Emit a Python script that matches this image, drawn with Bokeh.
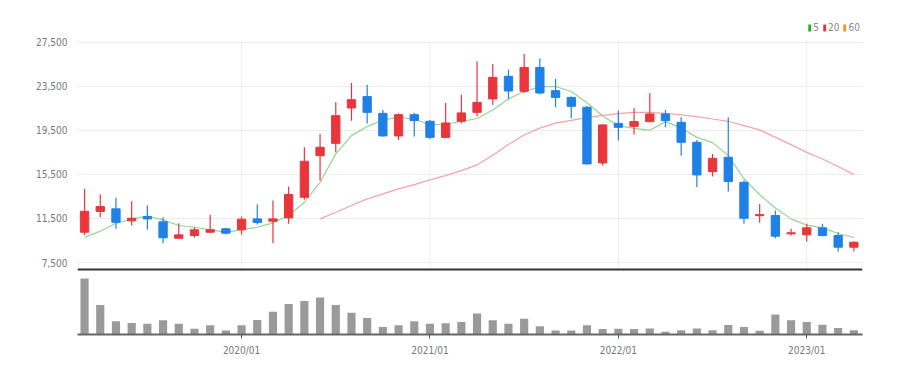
from bokeh.plotting import figure
from bokeh.layouts import column
from bokeh.models import (ColumnDataSource, FixedTicker, NumeralTickFormatter, Legend,
                          LegendItem, Range1d, Span)
from bokeh.embed import file_html
from bokeh.resources import INLINE

months = ["2019/03", "2019/04", "2019/05", "2019/06", "2019/07", "2019/08", "2019/09", "2019/10",
          "2019/11", "2019/12", "2020/01", "2020/02", "2020/03", "2020/04", "2020/05", "2020/06",
          "2020/07", "2020/08", "2020/09", "2020/10", "2020/11", "2020/12", "2021/01", "2021/02",
          "2021/03", "2021/04", "2021/05", "2021/06", "2021/07", "2021/08", "2021/09", "2021/10",
          "2021/11", "2021/12", "2022/01", "2022/02", "2022/03", "2022/04", "2022/05", "2022/06",
          "2022/07", "2022/08", "2022/09", "2022/10", "2022/11", "2022/12", "2023/01", "2023/02",
          "2023/03", "2023/04"]

opens = [10250, 12130, 12370, 11280, 11670, 11190, 9700, 9950, 10250, 10560,
         10470, 11460, 11250, 11550, 13420, 17200, 18320, 21530, 22560, 21040,
         18990, 20920, 20320, 18860, 20320, 21130, 22350, 24400, 23040, 25210,
         23100, 22490, 21590, 16540, 20130, 19860, 20290, 20990, 20230, 18410,
         15750, 17050, 14780, 11750, 11760, 10100, 10010, 10650, 9950, 8890]
closes = [12150, 12580, 11150, 11520, 11460, 9740, 10010, 10470, 10470, 10160,
          11430, 11130, 11460, 13670, 16690, 17960, 20830, 22280, 21130, 18990,
          20920, 20380, 18860, 20170, 21080, 22040, 24310, 23070, 25210, 22890,
          22490, 21680, 16450, 19990, 19770, 20290, 20990, 20380, 18410, 15450,
          16960, 14850, 11520, 11850, 9890, 10200, 10650, 9950, 8890, 9340]
highs = [14200, 13670, 13370, 13060, 12670, 11600, 11060, 10700, 11830, 10650,
         11670, 12760, 13120, 14390, 17960, 19170, 22040, 23800, 23640, 21350,
         21040, 21080, 20440, 21990, 22740, 25760, 25520, 25000, 26430, 26030,
         24160, 22580, 21740, 20040, 21290, 21530, 22890, 21350, 20680, 18630,
         17360, 20680, 14940, 12820, 12220, 10560, 11010, 11010, 10250, 9430]
lows = [10000, 11600, 10560, 10860, 10490, 9250, 9650, 9740, 10200, 10040,
        10010, 10950, 9250, 11010, 13190, 14940, 17500, 20380, 20130, 18930,
        18630, 18930, 18720, 18770, 20130, 20770, 21800, 22350, 22890, 22770,
        21590, 20590, 16390, 16300, 18570, 19110, 20230, 19770, 17200, 14330,
        15300, 13940, 11010, 11100, 9700, 9950, 9400, 9860, 8500, 8500]
ma5 = [9800, 10340, 11065, 11430, 11720, 11370, 10860, 10700, 10470, 10250,
       10470, 10700, 11100, 11760, 12970, 14780, 17360, 19020, 19840, 20440,
       20680, 20530, 20000, 20050, 20300, 20570, 21350, 22350, 23020, 23450,
       23480, 23020, 22000, 20800, 19920, 19680, 19500, 20290, 19720, 18860,
       18380, 17200, 15100, 13650, 12450, 11460, 10890, 10640, 10130, 9770]
ma20_start = 15
ma20 = [11460, 12060, 12670, 13280, 13730, 14180, 14570, 15000, 15390, 15840,
        16360, 17230, 18220, 19070, 19700, 20150, 20410, 20650, 20860, 21020,
        21130, 21130, 21040, 20900, 20740, 20530, 20320, 19930, 19540, 18860,
        18200, 17500, 16900, 16210, 15480]
volumes = [5500, 2900, 1300, 1130, 1060, 1400, 1060, 560, 900, 400,
           900, 1430, 2230, 3000, 3300, 3630, 2900, 2130, 1630, 730,
           900, 1300, 1060, 1100, 1230, 2060, 1400, 1060, 1560, 800,
           400, 400, 900, 530, 560, 530, 600, 260, 430, 600,
           430, 930, 730, 360, 1960, 1400, 1230, 960, 630, 430]
y_ticks = [7500, 11500, 15500, 19500, 23500, 27500]
legend_labels = ["5", "20", "60"]

RED = "#e8363c"
BLUE = "#1f80e6"
FONT = "'Liberation Sans Narrow', 'DejaVu Sans Condensed', Roboto, sans-serif"
GRID = "#ececec"

Y_MIN, Y_GRID_TOP, Y_MAX = 6683, 27654, 29470

xs = list(range(len(months)))
x_ticks = [i for i, m in enumerate(months) if m.endswith("/01")]
x_labels = {i: months[i] for i in x_ticks}

colors = [RED if c >= o else BLUE for o, c in zip(opens, closes)]
src = ColumnDataSource(dict(
    x=xs, open=opens, close=closes, high=highs, low=lows,
    top=[max(o, c) for o, c in zip(opens, closes)],
    bottom=[min(o, c) for o, c in zip(opens, closes)],
    color=colors, vol=volumes, ma5=ma5,
))
src20 = ColumnDataSource(dict(x=xs[ma20_start:], ma20=ma20))

p = figure(width=870, height=271, x_range=Range1d(-0.45, 49.55), y_range=Range1d(Y_MIN, Y_MAX),
           output_backend="svg", toolbar_location=None,
           min_border_left=77, min_border_right=8, min_border_top=20, min_border_bottom=0)
p.outline_line_color = None
p.xaxis.visible = False
p.xgrid.visible = False
p.yaxis.ticker = FixedTicker(ticks=y_ticks)
p.yaxis.formatter = NumeralTickFormatter(format="0,0")
p.yaxis.axis_line_color = None
p.yaxis.major_tick_line_color = None
p.yaxis.minor_tick_line_color = None
p.yaxis.major_label_text_font = FONT
p.yaxis.major_label_text_font_size = "10px"
p.yaxis.major_label_text_color = "#777777"
p.yaxis.major_label_standoff = 4
p.ygrid.grid_line_color = GRID

# vertical year grid lines, limited to the price area
p.segment(x0=x_ticks, y0=[Y_MIN] * len(x_ticks), x1=x_ticks, y1=[Y_GRID_TOP] * len(x_ticks),
          line_color=GRID, line_width=1)

p.line("x", "ma20", source=src20, line_color="#f5a3a6", line_width=1.2)
p.line("x", "ma5", source=src, line_color="#8fd88f", line_width=1.2)
p.segment("x", "low", "x", "high", source=src, line_color="color", line_width=1.2)
p.vbar(x="x", width=0.53, top="top", bottom="bottom", source=src,
       fill_color="color", line_color="color")

p.add_layout(Span(location=6865, dimension="width", line_color="#333333", line_width=2))

nan = float("nan")
leg_colors = ["#23b323", "#e8363c", "#f39322"]
items = []
for lab, col in zip(legend_labels, leg_colors):
    r = p.quad(left=[nan], right=[nan], top=[nan], bottom=[nan], fill_color=col, line_color=None)
    items.append(LegendItem(label=lab, renderers=[r]))
legend = Legend(items=items, orientation="horizontal", location="top_right",
                glyph_width=4, glyph_height=9, label_width=4, label_height=10,
                label_standoff=2, spacing=3, padding=0, margin=2,
                label_text_font=FONT, label_text_font_size="10px", label_text_color="#888888",
                border_line_color=None, background_fill_alpha=0)
p.add_layout(legend)

v = figure(width=870, height=87, x_range=p.x_range, y_range=Range1d(0, 6200),
           output_backend="svg", toolbar_location=None,
           min_border_left=77, min_border_right=8, min_border_top=0, min_border_bottom=0)
v.outline_line_color = None
v.yaxis.visible = False
v.grid.visible = False
v.vbar(x="x", width=0.52, top="vol", bottom=0, source=src, fill_color="#9a9a9a", line_color=None)
v.xaxis.ticker = FixedTicker(ticks=x_ticks)
v.xaxis.major_label_overrides = x_labels
v.xaxis.axis_line_color = "#666666"
v.xaxis.axis_line_width = 2
v.xaxis.major_tick_line_color = "#555555"
v.xaxis.major_tick_in = 0
v.xaxis.major_tick_out = 4
v.xaxis.minor_tick_line_color = None
v.xaxis.major_label_text_font = FONT
v.xaxis.major_label_text_font_size = "10px"
v.xaxis.major_label_text_color = "#777777"
v.xaxis.major_label_standoff = 6

layout = column(p, v)
open("out.html", "w").write(file_html(layout, INLINE))
